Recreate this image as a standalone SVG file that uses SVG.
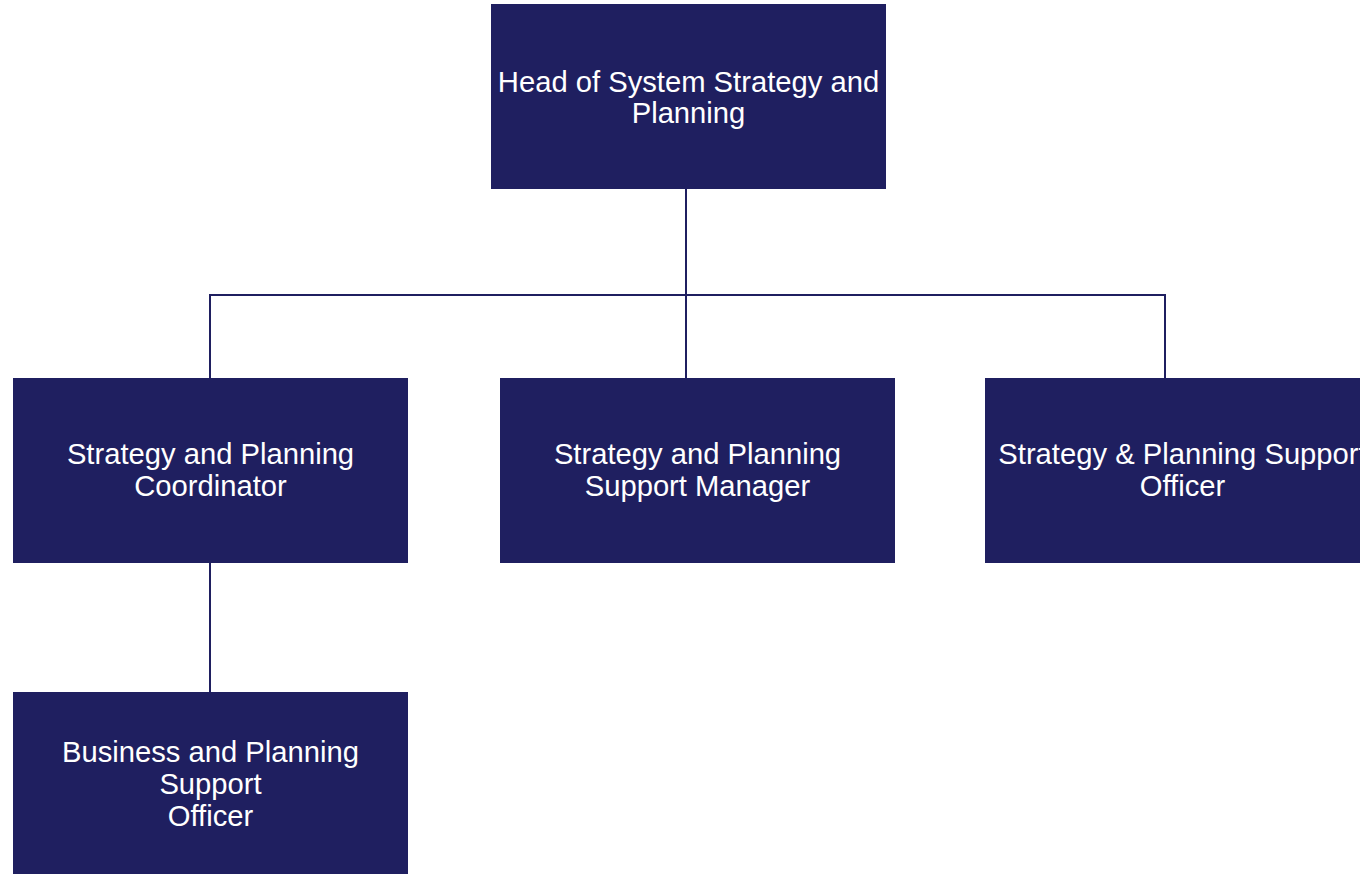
<svg xmlns="http://www.w3.org/2000/svg" width="1360" height="874" viewBox="0 0 1360 874">
<style>
.box{fill:#1f1f60;}
.lbl{font-family:"Liberation Sans",Arial,sans-serif;font-size:29.2px;fill:#ffffff;text-anchor:middle;}
.con{stroke:#1f1f60;stroke-width:2;fill:none;}
</style>
<rect width="1360" height="874" fill="#ffffff"/>
<g id="connectors">
<line class="con" x1="686" y1="189" x2="686" y2="378"/>
<polyline class="con" points="210,378 210,295 1165,295 1165,378"/>
<line class="con" x1="210" y1="563" x2="210" y2="692"/>
</g>
<g id="head">
<rect class="box" x="491" y="4" width="395" height="185"/>
<text class="lbl" x="688.5" y="92">Head of System Strategy and</text>
<text class="lbl" x="688.5" y="123">Planning</text>
</g>
<g id="coordinator">
<rect class="box" x="13" y="378" width="395" height="185"/>
<text class="lbl" x="210.5" y="464">Strategy and Planning</text>
<text class="lbl" x="210.5" y="496">Coordinator</text>
</g>
<g id="support-manager">
<rect class="box" x="500" y="378" width="395" height="185"/>
<text class="lbl" x="697.5" y="464">Strategy and Planning</text>
<text class="lbl" x="697.5" y="496">Support Manager</text>
</g>
<g id="support-officer">
<rect class="box" x="985" y="378" width="395" height="185"/>
<text class="lbl" x="1182.5" y="464">Strategy &amp; Planning Support</text>
<text class="lbl" x="1182.5" y="496">Officer</text>
</g>
<g id="business-officer">
<rect class="box" x="13" y="692" width="395" height="185"/>
<text class="lbl" x="210.5" y="762">Business and Planning</text>
<text class="lbl" x="210.5" y="794">Support</text>
<text class="lbl" x="210.5" y="826">Officer</text>
</g>
</svg>
